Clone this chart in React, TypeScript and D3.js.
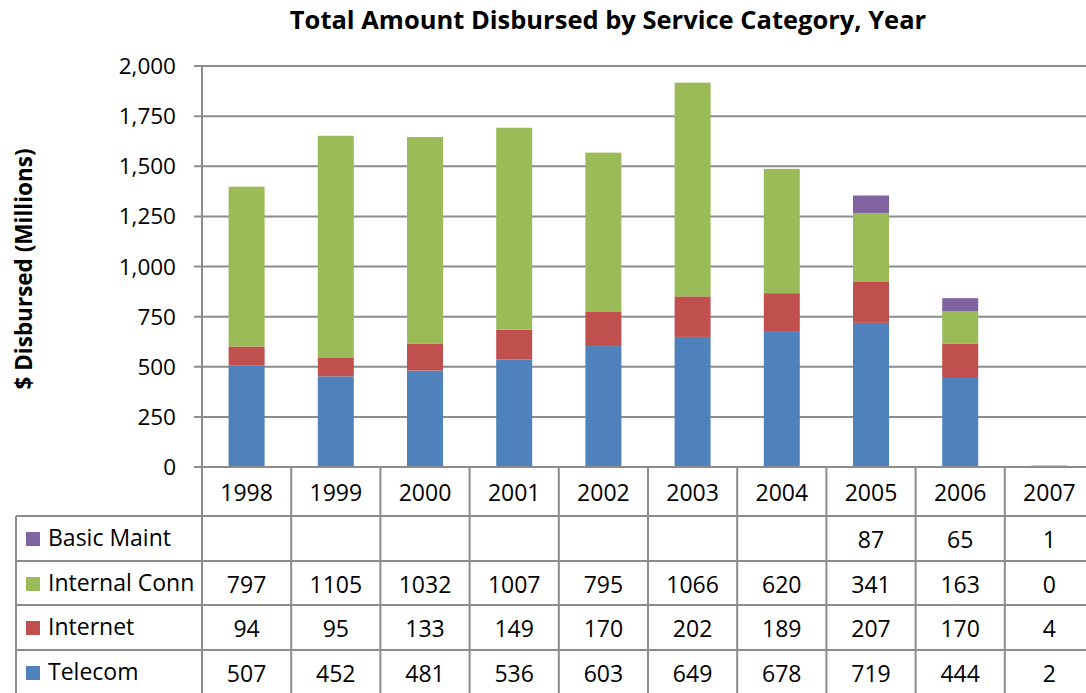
import React from "react";
import * as d3 from "d3";

const years = ["1998", "1999", "2000", "2001", "2002", "2003", "2004", "2005", "2006", "2007"];
const telecom = [507, 452, 481, 536, 603, 649, 678, 719, 444, 2];
const internet = [94, 95, 133, 149, 170, 202, 189, 207, 170, 4];
const internalConn = [797, 1105, 1032, 1007, 795, 1066, 620, 341, 163, 0];
const basicMaint: (number | null)[] = [null, null, null, null, null, null, null, 87, 65, 1];
const yTicks = [0, 250, 500, 750, 1000, 1250, 1500, 1750, 2000];

const seriesNames = ["Telecom", "Internet", "Internal Conn", "Basic Maint"];
const seriesColors = ["#4F81BD", "#C0504D", "#9BBB59", "#8064A2"];
const seriesValues = [telecom, internet, internalConn, basicMaint];

const W = 1086;
const H = 693;
const FONT = "'Open Sans', sans-serif";

export default function App() {
  const x0 = 202;
  const x1 = 1094;
  const yTop = 66;
  const yBot = 467;
  const x = d3.scaleBand<string>().domain(years).range([x0, x1]);
  const y = d3.scaleLinear().domain([0, 2000]).range([yBot, yTop]);
  const barW = 36;

  const rows = years.map((yr, i) => {
    const r: any = { year: yr };
    seriesNames.forEach((n, k) => (r[n] = seriesValues[k][i] ?? 0));
    return r;
  });
  const stack = d3.stack<any>().keys(seriesNames)(rows);

  const grid = "#8c8c8c";
  const tableOrder = [3, 2, 1, 0];
  const rowY = [516, 561, 605, 650, 695];
  const headerTop = yBot;
  const legendLeft = 16;
  const fsTick = 22.5;
  const fsTab = 23;

  return (
    <svg width={W} height={H} style={{ position: "absolute", left: 0, top: 0, background: "#fff" }} fontFamily={FONT}>
      <text x={608} y={29} textAnchor="middle" fontSize={25.5} fontWeight="bold" fill="#000">
        Total Amount Disbursed by Service Category, Year
      </text>
      <text
        transform={`translate(32,269) rotate(-90)`}
        textAnchor="middle"
        fontSize={22.5}
        fontWeight="bold"
        fill="#000"
      >
        $ Disbursed (Millions)
      </text>

      {yTicks.map((t) => (
        <g key={t}>
          <line x1={194} x2={W} y1={y(t)} y2={y(t)} stroke={grid} strokeWidth={2} />
          <text x={176} y={y(t) + 8} textAnchor="end" fontSize={fsTick} fill="#000">
            {d3.format(",")(t)}
          </text>
        </g>
      ))}
      <line x1={x0} x2={x0} y1={yTop} y2={yBot} stroke={grid} strokeWidth={2} />

      {stack.map((s, k) => (
        <g key={seriesNames[k]} fill={seriesColors[k]}>
          {s.map((d, i) => {
            const h = y(d[0]) - y(d[1]);
            if (h <= 0) return null;
            return (
              <rect
                key={i}
                x={(x(years[i]) as number) + x.bandwidth() / 2 - barW / 2}
                y={y(d[1])}
                width={barW}
                height={h}
              />
            );
          })}
        </g>
      ))}

      {years.map((yr) => (
        <text
          key={yr}
          x={(x(yr) as number) + x.bandwidth() / 2}
          y={headerTop + 34}
          textAnchor="middle"
          fontSize={fsTab}
          fill="#000"
        >
          {yr}
        </text>
      ))}

      {tableOrder.map((k, r) => (
        <g key={seriesNames[k]}>
          <rect x={26} y={rowY[r] + 16} width={14} height={14} fill={seriesColors[k]} />
          <text x={48} y={rowY[r] + 30} fontSize={fsTab} fill="#000">
            {seriesNames[k]}
          </text>
          {years.map((yr, i) => {
            const v = seriesValues[k][i];
            if (v === null || v === undefined) return null;
            return (
              <text
                key={yr}
                x={(x(yr) as number) + x.bandwidth() / 2}
                y={rowY[r] + 32}
                textAnchor="middle"
                fontSize={fsTab}
                fill="#000"
              >
                {v}
              </text>
            );
          })}
        </g>
      ))}

      <g stroke={grid} strokeWidth={2}>
        <line x1={x0 - 8} x2={W} y1={yBot} y2={yBot} />
        {rowY.slice(0, 4).map((ry) => (
          <line key={ry} x1={legendLeft} x2={W} y1={ry} y2={ry} />
        ))}
        <line x1={legendLeft} x2={legendLeft} y1={rowY[0]} y2={H} />
        {years.map((yr) => (
          <line key={yr} x1={x(yr) as number} x2={x(yr) as number} y1={headerTop} y2={H} />
        ))}
      </g>
    </svg>
  );
}
